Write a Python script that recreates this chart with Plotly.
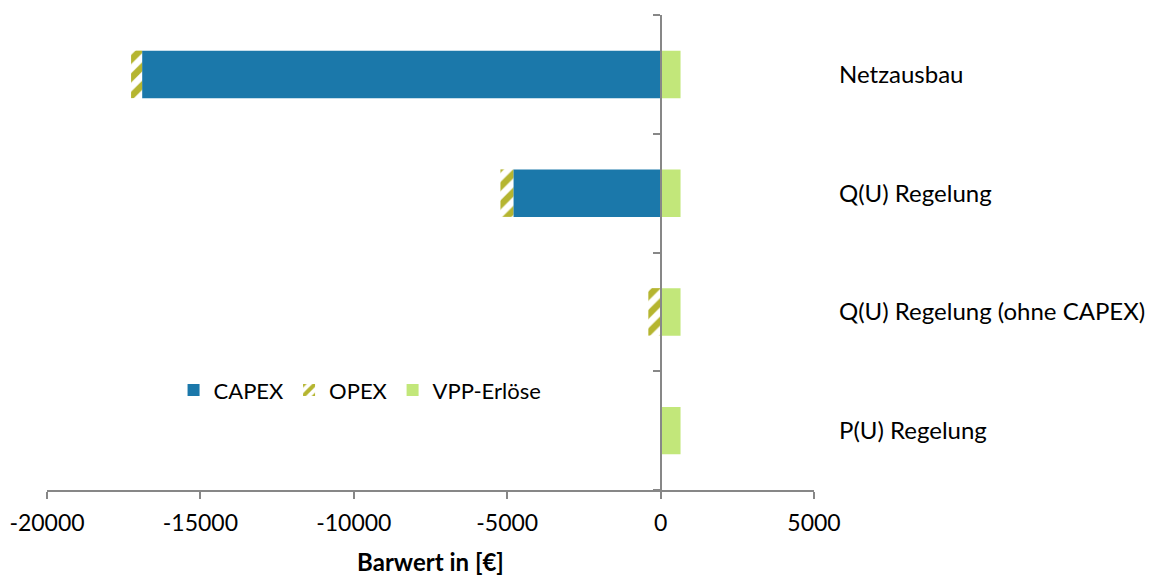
import plotly.graph_objects as go

# Scenarios (top to bottom) and their present-value components in EUR
categories = ["Netzausbau", "Q(U) Regelung", "Q(U) Regelung (ohne CAPEX)", "P(U) Regelung"]
capex = [-16900, -4800, 0, 0]
opex = [-360, -420, -400, 0]
vpp = [650, 650, 650, 650]

x_ticks = [-20000, -15000, -10000, -5000, 0, 5000]
x_range = [-20000, 5000]

FONT = "Lato, 'Open Sans', sans-serif"
AXIS_GREY = "#878787"

fig = go.Figure()
fig.add_trace(go.Bar(
    y=categories, x=capex, orientation="h", name="CAPEX",
    marker=dict(color="#1B78AA", line=dict(width=0)),
))
fig.add_trace(go.Bar(
    y=categories, x=opex, orientation="h", name="OPEX",
    marker=dict(color="white", line=dict(width=0),
                pattern=dict(shape="/", fgcolor="#B5B530", bgcolor="white",
                             fgopacity=1, fillmode="replace",
                             size=13, solidity=0.5)),
))
fig.add_trace(go.Bar(
    y=categories, x=vpp, orientation="h", name="VPP-Erlöse",
    marker=dict(color="#C2E77A", line=dict(width=0)),
))

# invisible helper trace so the zero-line axis with tick marks is rendered
fig.add_trace(go.Scatter(x=[0], y=[0], yaxis="y2", mode="markers",
                         marker=dict(opacity=0), showlegend=False, hoverinfo="skip"))

zero_pos = (0 - x_range[0]) / (x_range[1] - x_range[0])
n = len(categories)

fig.update_layout(
    width=1152, height=577,
    margin=dict(l=47, r=338, t=15, b=87),
    paper_bgcolor="white", plot_bgcolor="white",
    barmode="relative", bargap=0.6,
    font=dict(family=FONT, size=22, color="#000000"),
    xaxis=dict(
        range=x_range, tickvals=x_ticks, ticktext=[str(v) for v in x_ticks],
        showgrid=False, zeroline=False, automargin=False,
        showline=True, linecolor=AXIS_GREY, linewidth=2,
        ticks="outside", ticklen=7, tickwidth=2, tickcolor=AXIS_GREY,
        tickfont=dict(size=23, family=FONT),
        ticklabelstandoff=4,
        title=dict(text="<b>Barwert in [€]</b>", font=dict(size=24, family=FONT), standoff=20),
    ),
    yaxis=dict(
        type="category", categoryarray=categories,
        range=[n - 0.5, -0.5], automargin=False,
        side="right", showgrid=False, zeroline=False, showline=False,
        ticks="", ticklabelstandoff=24,
        tickfont=dict(size=24, family=FONT),
    ),
    yaxis2=dict(
        type="linear", overlaying="y", anchor="free", position=zero_pos,
        side="left", range=[n - 0.5, -0.5], automargin=False,
        tickvals=[i - 0.5 for i in range(n + 1)], showticklabels=False,
        ticks="outside", ticklen=7, tickwidth=2, tickcolor=AXIS_GREY,
        showline=True, linecolor=AXIS_GREY, linewidth=2,
        showgrid=False, zeroline=False,
    ),
    legend=dict(
        orientation="h", x=0.165, y=0.21, xanchor="left", yanchor="middle",
        bgcolor="rgba(0,0,0,0)", font=dict(size=22, family=FONT),
        itemwidth=30, tracegroupgap=0,
    ),
    showlegend=True,
)

fig.write_html("out.html")
